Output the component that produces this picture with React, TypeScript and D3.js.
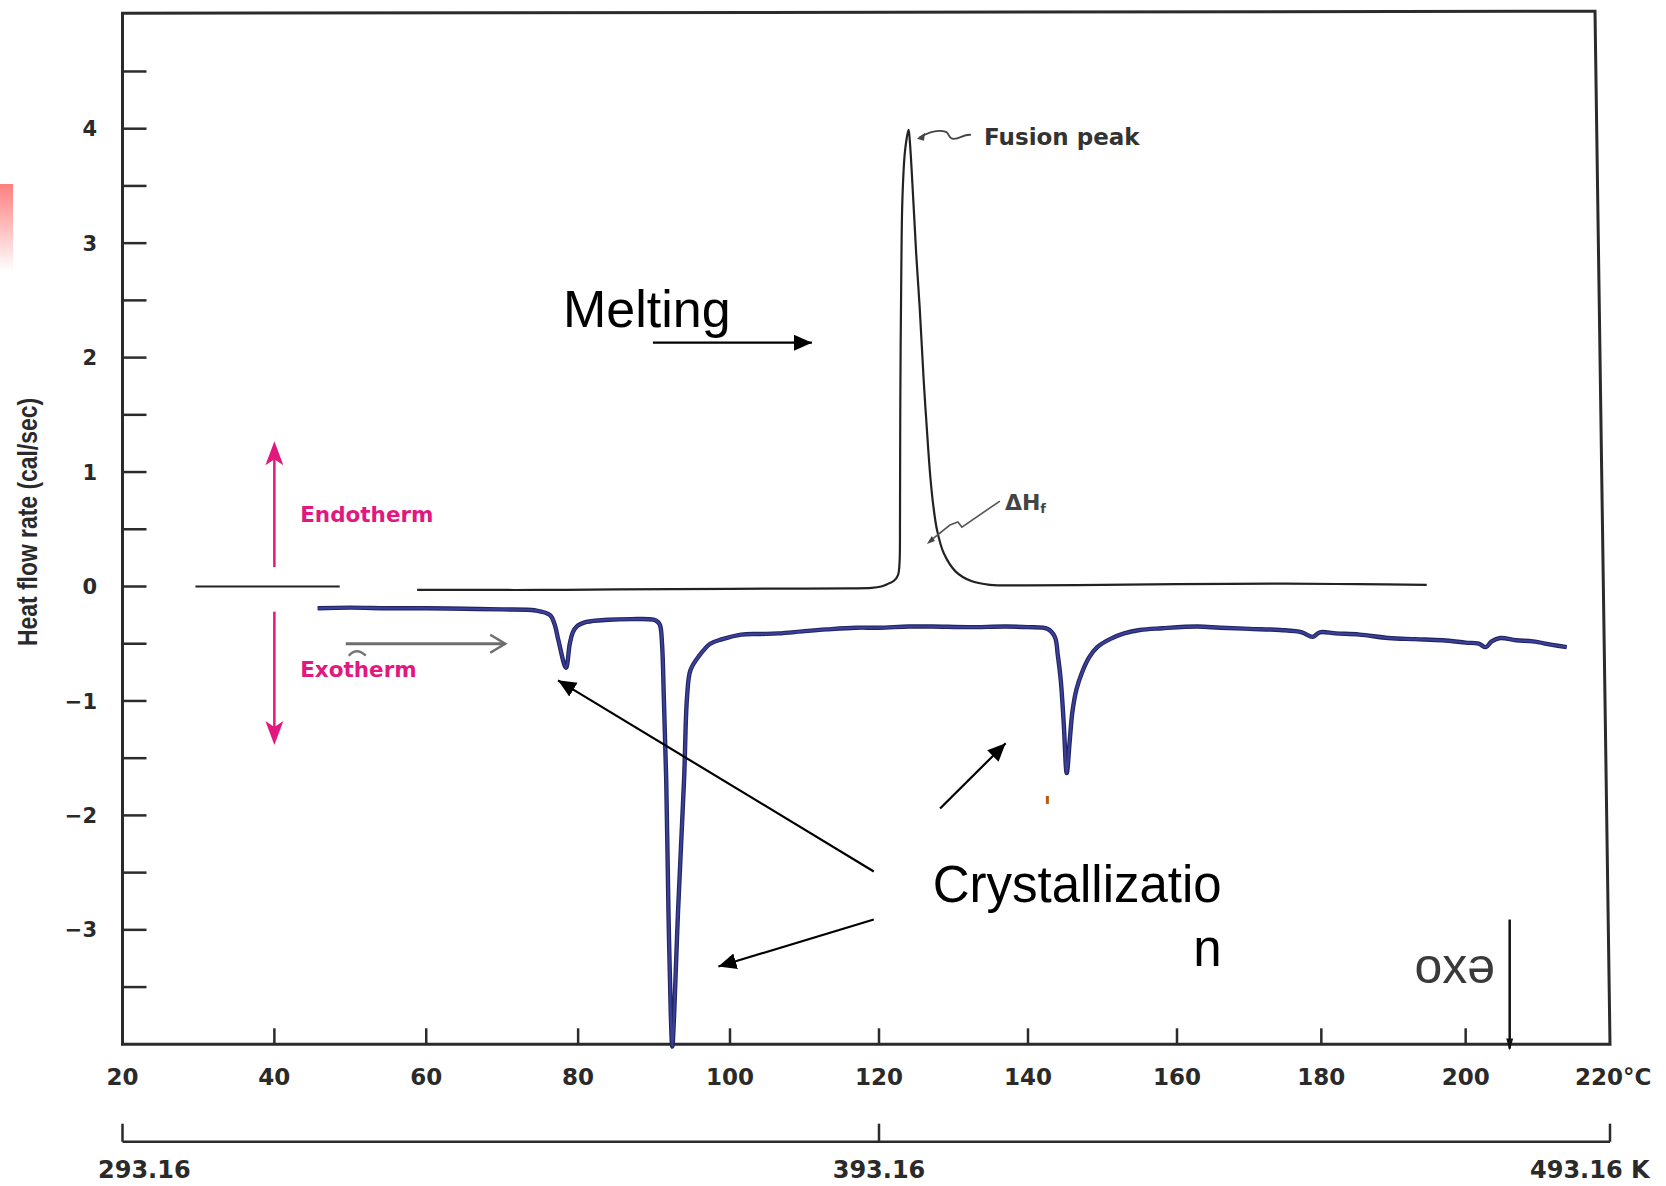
import React from "react";
import * as d3 from "d3";

const W = 1666;
const H = 1186;

// ---- axis ticks ----
const xTicks = [20, 40, 60, 80, 100, 120, 140, 160, 180, 200, 220];
const xTickLabels = ["20", "40", "60", "80", "100", "120", "140", "160", "180", "200", "220°C"];
const yMajorTicks = [-3, -2, -1, 0, 1, 2, 3, 4];
const yMinorTicks = [-3.5, -2.5, -1.5, -0.5, 0.5, 1.5, 2.5, 3.5, 4.5];
const kelvinTicks = [293.16, 393.16, 493.16];
const kelvinLabels = ["293.16", "393.16", "493.16 K"];

// ---- heating trace (black) : [°C, cal/sec] ----
const heatingLeft: [number, number][] = [
  [29.6, 0], [48.6, 0],
];
const heatingMain: [number, number][] = [
  [58.8, -0.03], [65, -0.03], [75, -0.03], [85, -0.025], [100, -0.02], [110, -0.018],
  [116, -0.016], [119.0, -0.012], [120.3, 0.0], [121.1, 0.02], [122.0, 0.05], [122.55, 0.1],
  [122.75, 0.2], [122.82, 0.6], [122.86, 1.6], [123.0, 2.8], [123.15, 3.4], [123.5, 3.81],
  [123.97, 3.99], [124.15, 3.88], [124.6, 3.38], [125.0, 2.9], [125.45, 2.45], [126.0, 1.8],
  [126.4, 1.4], [126.9, 0.95], [127.3, 0.7], [127.8, 0.49], [128.7, 0.29], [130.3, 0.13],
  [132.3, 0.05], [134.9, 0.015], [140, 0.01], [150, 0.015], [160, 0.02], [175, 0.025],
  [185, 0.02], [194.6, 0.015],
];

// ---- cooling trace (blue) : [°C, cal/sec] ----
const cooling: [number, number][] = [
  [45.7, -0.19], [50, -0.185], [55, -0.19], [60, -0.19], [65, -0.195], [70, -0.2], [74.4, -0.21],
  [76.3, -0.25], [76.9, -0.33], [77.4, -0.47], [78.4, -0.71], [78.9, -0.5], [79.3, -0.4],
  [79.8, -0.35], [81.1, -0.31], [84, -0.29], [87, -0.285], [89.9, -0.29], [90.5, -0.31],
  [90.8, -0.34], [91.05, -0.5], [91.3, -1.0], [91.6, -1.69], [91.9, -2.85],
  [92.2, -3.73], [92.4, -4.02], [92.65, -3.73], [93.15, -2.85], [93.95, -1.69], [94.35, -0.96],
  [94.8, -0.73], [96.0, -0.6], [97.4, -0.5], [99, -0.46], [101.5, -0.42], [104, -0.415],
  [106.5, -0.41], [110, -0.39], [113, -0.375], [116.9, -0.36],
  [120, -0.36], [124, -0.35], [127.2, -0.35], [132, -0.355], [137, -0.35], [140, -0.355],
  [142.6, -0.37], [143.6, -0.44], [144.0, -0.6], [144.4, -0.82], [144.8, -1.2], [145.2, -1.63],
  [145.6, -1.35], [145.95, -1.1], [146.5, -0.9], [147.2, -0.76], [148.2, -0.62], [149.3, -0.53],
  [151, -0.46], [152.9, -0.41], [155, -0.38], [158, -0.365], [162.8, -0.35], [166, -0.36],
  [170, -0.37], [174.3, -0.38], [177.3, -0.4], [178.8, -0.44], [179.8, -0.4], [182, -0.41],
  [185.3, -0.42], [189.3, -0.45], [193, -0.46], [196.8, -0.47], [200, -0.49], [201.8, -0.5],
  [202.8, -0.53], [203.6, -0.48], [204.8, -0.45], [207, -0.47], [209.3, -0.48], [212, -0.51],
  [214.0, -0.53],
];

// ---- annotations (data coordinates) ----
const meltingText = { x: 78.0, y: 2.27, text: "Melting" };
const meltingArrow = { from: [89.85, 2.13], to: [111.0, 2.13] };
const crystText = { x: 166.2, y1: -2.76, y2: -3.32, line1: "Crystallizatio", line2: "n" };
const crystArrows = [
  { from: [119.3, -2.49], to: [77.35, -0.82] },
  { from: [119.3, -2.91], to: [98.47, -3.32] },
  { from: [128.2, -1.94], to: [137.0, -1.37] },
];
const fusionLabel = { x: 134.1, y: 3.86, tipX: 125.1, tipY: 3.92, text: "Fusion peak" };
const dhLabel = { x: 136.9, y: 0.668 };
const endoExoX = 40;
const endoArrow = { from: 0.17, to: 1.27 };
const exoArrow = { from: -0.22, to: -1.385 };
const endoText = { x: 43.4, y: 0.56, text: "Endotherm" };
const exoText = { x: 43.4, y: -0.79, text: "Exotherm" };
const grayArrow = { from: 49.4, to: 70.4, y: -0.5 };
const exoMarker = { x: 206.1, top: -2.91, bottom: -4.02 };

export default function App() {
  const x = d3.scaleLinear().domain([20, 100, 160, 220]).range([122.5, 730, 1177, 1610]);
  const y = d3.scaleLinear().domain([-4, 5]).range([1044.3, 14.25]);
  const xK = (k: number) => x(k - 273.16);

  const line = d3
    .line<[number, number]>()
    .x((d) => x(d[0]))
    .y((d) => y(d[1]))
    .curve(d3.curveCatmullRom.alpha(0.5));

  const left = x(20);
  const right = x(220);
  const bottom = y(-4);
  const top = y(5) - 3;
  const printFont = "'DejaVu Sans', 'Liberation Sans', sans-serif";
  const slideFont = "'Liberation Sans', Arial, sans-serif";
  const axisColor = "#2b2b2b";
  const magenta = "#e2187f";
  const labelColor = "#2a2a2a";

  const ftx = x(fusionLabel.tipX);
  const fty = y(fusionLabel.tipY);
  const dhx = x(dhLabel.x);
  const dhy = y(dhLabel.y);

  const upTip = y(endoArrow.to);
  const downTip = y(exoArrow.to);
  const ex = x(endoExoX);
  const kY = 1141.7;

  return (
    <svg
      width={W}
      height={H}
      viewBox={`0 0 ${W} ${H}`}
      style={{ position: "absolute", left: 0, top: 0, display: "block", background: "#fff" }}
    >
      <defs>
        <linearGradient id="redbar" x1="0" y1="0" x2="0" y2="1">
          <stop offset="0" stopColor="#ff7f7f" />
          <stop offset="1" stopColor="#ffffff" />
        </linearGradient>
        <marker id="ah" markerUnits="userSpaceOnUse" markerWidth="20" markerHeight="18" refX="18" refY="8" orient="auto">
          <path d="M0,0 L18,8 L0,16 Z" fill="#000" />
        </marker>
      </defs>
      <rect x={0} y={0} width={W} height={H} fill="#fff" />

      {/* red gradient bar on the left */}
      <rect x={0} y={184} width={13} height={88} fill="url(#redbar)" />

      {/* frame */}
      <path
        d={`M${left},${bottom} L${left},${top + 2} L${right - 15},${top} L${right},${bottom} Z`}
        fill="none"
        stroke={axisColor}
        strokeWidth={3}
      />

      {/* y ticks */}
      {[...yMajorTicks, ...yMinorTicks].map((v) => (
        <line key={"yt" + v} x1={left} x2={left + 24} y1={y(v)} y2={y(v)} stroke={axisColor} strokeWidth={2.5} />
      ))}
      {yMajorTicks.map((v) => (
        <text
          key={"yl" + v}
          x={97}
          y={y(v)}
          dy="0.36em"
          textAnchor="end"
          fontFamily={printFont}
          fontWeight="bold"
          fontSize={21}
          fill={labelColor}
        >
          {v < 0 ? "\u2212" + Math.abs(v) : String(v)}
        </text>
      ))}

      {/* x ticks */}
      {xTicks.slice(1, -1).map((v) => (
        <line key={"xt" + v} x1={x(v)} x2={x(v)} y1={bottom} y2={bottom - 16} stroke={axisColor} strokeWidth={2.5} />
      ))}
      {xTicks.map((v, i) =>
        i === xTicks.length - 1 ? (
          <text key={"xl" + v} x={x(v) - 35} y={1085} textAnchor="start" fontFamily={printFont} fontWeight="bold" fontSize={23} fill={labelColor}>
            {xTickLabels[i]}
          </text>
        ) : (
          <text key={"xl" + v} x={x(v)} y={1085} textAnchor="middle" fontFamily={printFont} fontWeight="bold" fontSize={23} fill={labelColor}>
            {xTickLabels[i]}
          </text>
        )
      )}

      {/* kelvin axis */}
      <line x1={xK(kelvinTicks[0])} x2={xK(kelvinTicks[2])} y1={kY} y2={kY} stroke={axisColor} strokeWidth={2.5} />
      {kelvinTicks.map((k) => (
        <line key={"kt" + k} x1={xK(k)} x2={xK(k)} y1={kY} y2={kY - 18} stroke={axisColor} strokeWidth={2.5} />
      ))}
      {kelvinTicks.map((k, i) => (
        <text
          key={"kl" + k}
          x={i === 0 ? xK(k) - 24.5 : i === 1 ? xK(k) : xK(k) - 80}
          y={1178}
          textAnchor={i === 1 ? "middle" : "start"}
          fontFamily={printFont}
          fontWeight="bold"
          fontSize={24}
          fill={labelColor}
        >
          {kelvinLabels[i]}
        </text>
      ))}

      {/* y axis title */}
      <text
        transform={`translate(37,522) rotate(-90)`}
        textAnchor="middle"
        fontFamily="'Liberation Sans Narrow', 'Liberation Sans', Arial, sans-serif"
        fontWeight="bold"
        fontSize={27}
        textLength={248}
        lengthAdjust="spacingAndGlyphs"
        fill={labelColor}
      >
        Heat flow rate (cal/sec)
      </text>

      {/* heating trace */}
      <path d={line(heatingLeft) || ""} fill="none" stroke="#222" strokeWidth={2.2} />
      <path d={line(heatingMain) || ""} fill="none" stroke="#222" strokeWidth={2.2} strokeLinejoin="round" />

      {/* cooling trace */}
      <path d={line(cooling) || ""} fill="none" stroke="#23265e" strokeWidth={4.4} strokeLinejoin="round" />
      <path d={line(cooling) || ""} fill="none" stroke="#3b3f9c" strokeWidth={2.2} strokeLinejoin="round" />

      {/* Fusion peak label and leader */}
      <path
        d={`M${ftx + 2},${fty} C${ftx + 10},${fty - 5} ${ftx + 20},${fty - 9} ${ftx + 29},${fty - 6} C${ftx + 33},${fty - 4} ${ftx + 31},${fty + 1} ${ftx + 37},${fty + 1} C${ftx + 43},${fty + 1} ${ftx + 47},${fty - 4} ${ftx + 54},${fty - 3}`}
        fill="none"
        stroke="#444"
        strokeWidth={1.8}
      />
      <path d={`M${ftx},${fty + 1} L${ftx + 8},${fty - 5} L${ftx + 7},${fty + 3} Z`} fill="#444" />
      <text x={x(fusionLabel.x)} y={y(fusionLabel.y)} fontFamily={printFont} fontWeight="bold" fontSize={23} fill="#333">
        {fusionLabel.text}
      </text>

      {/* ΔHf label and leader */}
      <path
        d={`M${dhx - 5},${dhy - 9} L${dhx - 43},${dhy + 17} L${dhx - 47},${dhy + 12} L${dhx - 55},${dhy + 15} L${dhx - 75},${dhy + 31}`}
        fill="none"
        stroke="#555"
        strokeWidth={1.6}
      />
      <path d={`M${dhx - 78},${dhy + 34} L${dhx - 73},${dhy + 26} L${dhx - 70},${dhy + 31} Z`} fill="#444" />
      <text x={dhx} y={dhy} fontFamily={printFont} fontWeight="bold" fontSize={22} fill="#444">
        ΔH
        <tspan fontSize={13} dy={3}>f</tspan>
      </text>

      {/* Endotherm / Exotherm */}
      <line x1={ex} x2={ex} y1={y(endoArrow.from)} y2={upTip + 12} stroke={magenta} strokeWidth={2.5} />
      <path d={`M${ex},${upTip} L${ex - 9},${upTip + 24} L${ex},${upTip + 18} L${ex + 9},${upTip + 24} Z`} fill={magenta} />
      <line x1={ex} x2={ex} y1={y(exoArrow.from)} y2={downTip - 12} stroke={magenta} strokeWidth={2.5} />
      <path d={`M${ex},${downTip} L${ex - 9},${downTip - 24} L${ex},${downTip - 18} L${ex + 9},${downTip - 24} Z`} fill={magenta} />
      <text x={x(endoText.x)} y={y(endoText.y)} fontFamily={printFont} fontWeight="bold" fontSize={21.5} fill={magenta}>
        {endoText.text}
      </text>
      <text x={x(exoText.x)} y={y(exoText.y)} fontFamily={printFont} fontWeight="bold" fontSize={21.5} fill={magenta}>
        {exoText.text}
      </text>

      {/* gray direction arrow */}
      <line x1={x(grayArrow.from)} x2={x(grayArrow.to)} y1={y(grayArrow.y)} y2={y(grayArrow.y)} stroke="#6e6e6e" strokeWidth={3} />
      <path
        d={`M${x(grayArrow.to) - 15},${y(grayArrow.y) - 9} L${x(grayArrow.to)},${y(grayArrow.y)} L${x(grayArrow.to) - 15},${y(grayArrow.y) + 9}`}
        fill="none"
        stroke="#6e6e6e"
        strokeWidth={2.5}
      />
      <path
        d={`M${x(grayArrow.from) + 3},${y(grayArrow.y) + 12} Q${x(grayArrow.from) + 11},${y(grayArrow.y) + 3} ${x(grayArrow.from) + 20},${y(grayArrow.y) + 12}`}
        fill="none"
        stroke="#777"
        strokeWidth={2.5}
      />

      {/* Melting */}
      <text x={x(meltingText.x)} y={y(meltingText.y)} fontFamily={slideFont} fontSize={52} fill="#000">
        {meltingText.text}
      </text>
      <line
        x1={x(meltingArrow.from[0])}
        y1={y(meltingArrow.from[1])}
        x2={x(meltingArrow.to[0])}
        y2={y(meltingArrow.to[1])}
        stroke="#000"
        strokeWidth={2.2}
        markerEnd="url(#ah)"
      />

      {/* Crystallization */}
      <text x={x(crystText.x)} y={y(crystText.y1)} textAnchor="end" fontFamily={slideFont} fontSize={51} fill="#000">
        {crystText.line1}
      </text>
      <text x={x(crystText.x)} y={y(crystText.y2)} textAnchor="end" fontFamily={slideFont} fontSize={51} fill="#000">
        {crystText.line2}
      </text>
      {crystArrows.map((a, i) => (
        <line
          key={"ca" + i}
          x1={x(a.from[0])}
          y1={y(a.from[1])}
          x2={x(a.to[0])}
          y2={y(a.to[1])}
          stroke="#000"
          strokeWidth={2.2}
          markerEnd="url(#ah)"
        />
      ))}
      <rect x={x(142.6) - 1.5} y={y(-1.865) - 4} width={3} height={8} fill="#b85a10" />

      {/* exo marker */}
      <text x={1495} y={983} textAnchor="end" fontFamily={slideFont} fontSize={50} fill="#3a3a3a">
        oxə
      </text>
      <line x1={x(exoMarker.x)} x2={x(exoMarker.x)} y1={y(exoMarker.top)} y2={y(exoMarker.bottom) + 2} stroke="#111" strokeWidth={2.5} />
      <path
        d={`M${x(exoMarker.x)},${y(exoMarker.bottom) + 4} L${x(exoMarker.x) - 3.5},${y(exoMarker.bottom) - 8} L${x(exoMarker.x) + 3.5},${y(exoMarker.bottom) - 8} Z`}
        fill="#111"
      />
    </svg>
  );
}
